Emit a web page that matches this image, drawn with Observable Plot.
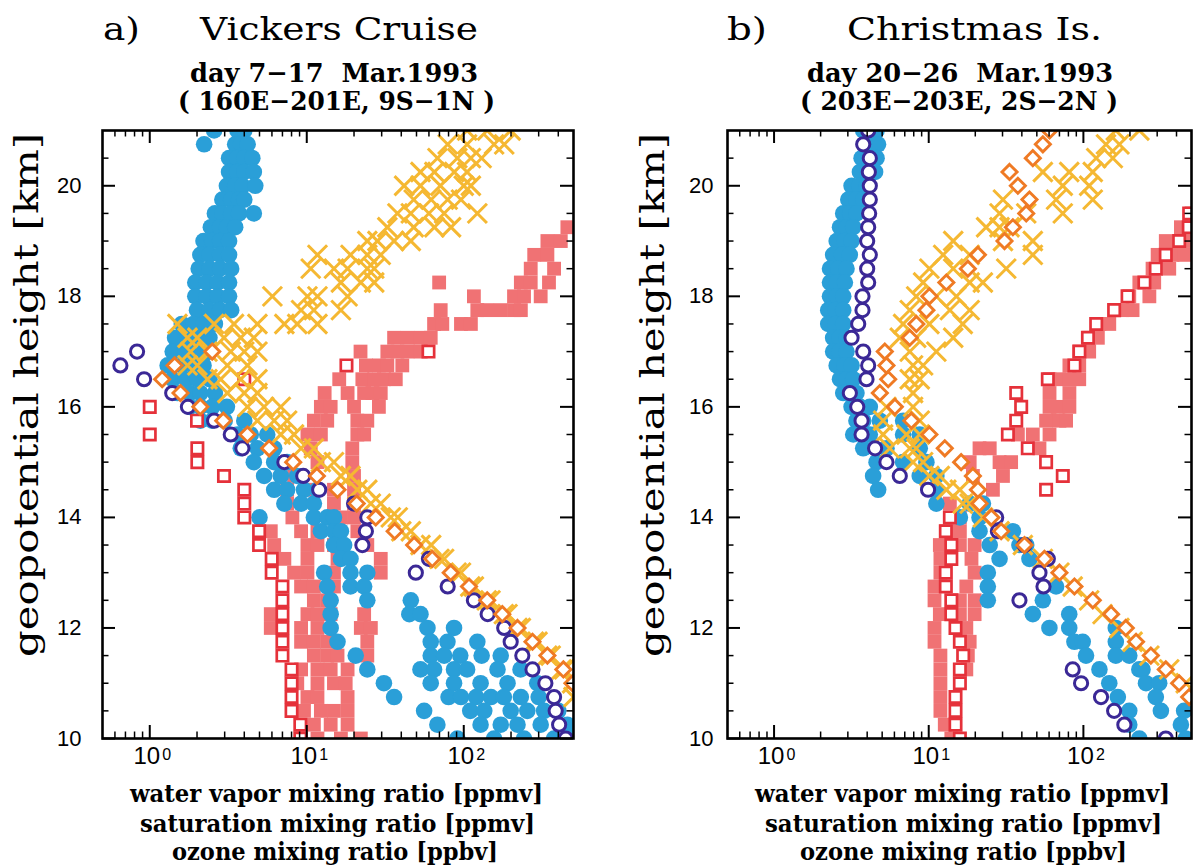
<!DOCTYPE html>
<html><head><meta charset="utf-8">
<script src="https://cdn.jsdelivr.net/npm/d3@7"></script>
<script src="https://cdn.jsdelivr.net/npm/@observablehq/plot@0.6"></script>
<style>
html,body{margin:0;padding:0;background:#fff;}
#wrap{position:relative;width:1199px;height:866px;overflow:hidden;background:#fff;}
#wrap > svg{position:absolute;top:0;}
</style></head><body><div id="wrap"></div>
<script>
// ---------- tick labels & texts ----------
const xTickValues = [1, 10, 100];
const xTickExponents = ["0", "1", "2"];
const xMinorTicks = [0.6,0.7,0.8,0.9,2,3,4,5,6,7,8,9,20,30,40,50,60,70,80,90,200,300,400];
const yTickValues = [10, 12, 14, 16, 18, 20];
const yMinorTicks = [10.5,11,11.5,12.5,13,13.5,14.5,15,15.5,16.5,17,17.5,18.5,19,19.5,20.5];
const titlesA = ["a)", "Vickers Cruise", "day 7\u221217  Mar.1993", "( 160E\u2212201E, 9S\u22121N )"];
const titlesB = ["b)", "Christmas Is.", "day 20\u221226  Mar.1993", "( 203E\u2212203E, 2S\u22122N )"];
const xLabelLines = ["water vapor mixing ratio [ppmv]", "saturation mixing ratio [ppmv]", "ozone mixing ratio [ppbv]"];
const yLabel = "geopotential height [km]";

// ---------- data: rows of [height km, values...] ----------
// Panel a (Vickers Cruise)
const aVapor = [
[21,2.57,3.62,4.0],[20.75,2.22,3.5,3.8,4.2],[20.5,3.2,3.6,4.0,4.5],[20.25,3.2,3.6,4.0,4.6],[20,3.1,3.5,3.9,4.7],
[19.75,2.9,3.3,3.7,4.0],[19.5,2.6,2.9,3.3,3.7,4.6],[19.25,2.45,2.8,3.1,3.5],[19,2.2,2.5,2.8,3.2],[18.75,2.1,2.4,2.8,3.2],
[18.5,2.05,2.4,2.8,3.3],[18.25,1.95,2.3,2.7,3.2],[18,1.95,2.3,2.7,3.2],[17.75,2.0,2.4,2.8,3.3],[17.5,1.6,1.9,2.2,2.6],
[17.25,1.45,1.75,2.05,2.4],[17,1.4,1.7,2.0,2.4],[16.75,1.3,1.6,1.9,2.2],[16.5,1.4,1.7,2.0,2.4],[16.25,1.5,1.8,2.1,2.6],
[16,1.8,2.1,2.5,3.1],[15.75,2.1,2.5,3.0,4.0],[15.5,3.62,4.4,5.6],[15.25,3.8,4.85,6.2],[15,4.6,6.2,7.5],
[14.75,5.35,6.83,8.7],[14.5,6.2,7.5,9.6,11.7],[14.25,7.2,9.2,11.1],[14,5.0,11.1,13.5,14.9],[13.75,12.3,14.9,16.5],
[13.5,14.9,17.3],[13.25,16.5,19],[13,12.9,19,24.3],[12.75,13.5,19,23.2],[12.5,14.2,24.3,46],[12.25,14.2,45,53],
[12,14.2,58.7,86.7],[11.75,15.7,61.6,78.7,122],[11.5,20.5,61.6,75,95,130,172],[11.25,24.3,53,64.7,86.7,105,164,230],
[11,31,61.6,86.7,128,190,294],[10.75,36,80,96,120,149,180,231,300],[10.5,55.9,110,135,199,254,325,400],
[10.25,67.9,128,172,220,309,457],[10,91,156,242,376,479]
];
const aVaporMean = [
[17,0.83],[16.75,0.65],[16.5,0.92],[16.25,1.39],[16,1.75],[15.75,2.57],[15.5,3.28],[15.25,3.89],[15,7.2],
[14.75,9.5],[14.5,12],[14.25,20],[14,24.3],[13.75,23.8],[13.5,22.6],[13.25,60],[13,49.5],[12.75,79],[12.5,116],
[12.25,142],[12,181],[11.75,199],[11.5,236],[11.25,274],[11,331],[10.75,376],[10.5,385],[10.25,405],[10,446]
];
const aSat = [
[21,105,141,199],[20.75,79,105,156,181],[20.5,68,91,111,130],[20.25,53,65,87,105],[20,41.7,53,71,100,111],
[19.75,48,62,79,96],[19.5,37.8,46,60,75,122],[19.25,32.6,48,65,83],[19,24.3,28.2,36,46],[18.75,11.7,19,24.3,29.6],
[18.5,10.6,14.9,18.2,24.3,26.9],[18.25,16.5,22.1,26.9],[18,6.04,10.1,11.7,18.2],[17.75,9.2,11.1,16.5],
[17.5,1.5,2.57,3.44,4.85,7.2,8.7,11.7],[17.25,1.74,2.01,2.97,3.8,4.6],[17,1.82,2.33,3.28,4.0,4.85],
[16.75,1.74,2.01,3.12,4.19],[16.5,2.33,2.83,3.8,4.85],[16.25,3.12,4.0,4.85],[16,4.19,5.35,6.83],[15.75,4.85,6.2,7.5],
[15.5,6.83,8.3],[15.25,9.2,11.1],[15,12.3,14.9],[14.75,16.5,19],[14.5,21,24.3],[14.25,25.6,29.6],[14,34.3,38],
[13.75,40,46],[13.5,53,62],[13.25,70,75],[13,90,96],[12.75,110,116],[12.5,140,148],[12.25,180,190],[12,220,231],
[11.75,280,295],[11.5,340,358],[11.25,420,436],[11,490],[10.75,500]
];
const aSatMean = [
[17,2.5],[16.75,1.44],[16.5,1.2],[16.25,1.57],[16,2.1],[15.75,2.94],[15.5,4.19],[15.25,5.76],[15,8.2],[14.75,11.6],
[14.5,15.7],[14.25,20.8],[14,27.5],[13.75,36.3],[13.5,48.3],[13.25,63],[13,82.6],[12.75,108],[12.5,141],[12.25,176],
[12,220],[11.75,274],[11.5,341],[11.25,431],[11,492]
];
const aOzone = [
[19.25,457],[19,341,415],[18.75,281,341],[18.5,267,376],[18.25,69.7,231,267,349],[18,116,209,242,309],
[17.75,71.3,122,141,172,209,231],[17.5,64.7,73,96,111],[17.25,36,43.8,53.2,61.6],[17,22,32.6,37.8,43.8,53.2],
[16.75,23.8,28.8,32.6,40.6],[16.5,16.1,22.6,26.9,31,36.9],[16.25,13,18.2,23.2,26.2,29.6],[16,12.3,14.2,20,28.8],
[15.75,11.1,13.5,21,24.3],[15.5,10.1,12.3,21,23.2],[15.25,10.6,19.5],[15,7.5,11.7,19.5],[14.75,8.3,20],
[14.5,7.5,10.1,14.9,20],[14.25,7.5,14.9,20],[14,8.1,16.5,20],[13.75,5.9,9.2,11.7,21],[13.5,6.2,10.1,11.7,14.9,24.3],
[13.25,7.2,10.1,15.7,29.6],[13,8.3,10.1,14.9,29.6],[12.75,9.2,11.1,14.9],[12.5,11.1,13.5],[12.25,5.9,10.1,11.7,14.2,23.2],
[12,5.9,9.2,11.7,22.1,25.6],[11.75,9.2,11.1,13.5,24.3],[11.5,11.1,13.5,15.7,24.3],[11.25,9.2,11.7,14.2,18.2],
[11,8.7,11.7,14.9,17.7],[10.75,10.1,11.7,18.2],[10.5,9.6,12.3,14.9,18.2],[10.25,11.1,14.2,18.2],[10,9.2,11.7,16.5,22.1]
];
const aOzoneMean = [
[17,59.6],[16.75,17.9],[16.5,4.0],[16,1.0],[15.75,2.0],[15.5,1.0],[15.25,2.01],[15,2.01],[14.75,2.97],[14.5,4.0],
[14.25,4.0],[14,4.0],[13.75,4.97],[13.5,4.97],[13.25,5.98],[13,5.98],[12.75,7.0],[12.5,7.0],[12.25,7.0],[12,7.0],
[11.75,7.0],[11.5,7.0],[11.25,8.0],[11,8.0],[10.75,8.0],[10.5,8.0],[10.25,9.1],[10,9.1]
];
// Panel b (Christmas Is.)
const bVapor = [
[21,3.77,4.2,4.6],[20.75,3.87,4.3,4.7],[20.5,3.68,4.1,4.6],[20.25,3.59,4.0,4.5],[20,3.17,3.55,3.96],
[19.75,3.02,3.4,3.77],[19.5,2.8,3.1,3.41],[19.25,2.67,2.95,3.25],[19,2.54,2.85,3.17],[18.75,2.41,2.75,3.09],
[18.5,2.3,2.6,2.94],[18.25,2.3,2.55,2.87],[18,2.3,2.55,2.8],[17.75,2.24,2.5,2.8],[17.5,2.24,2.5,2.8],
[17.25,2.41,2.65,2.94],[17,2.41,2.65,2.94],[16.75,2.54,2.85,3.17],[16.5,2.67,2.95,3.25],[16.25,2.8,3.1,3.41],
[16,3.17,3.6,4.16],[15.75,3.41,3.77,4.83,6.83],[15.5,3.25,4.16,6.83,8.75],[15.25,3.77,5.33,8.75],[15,4.6,6.83,9.66],
[14.75,4.37,8.75,11.2],[14.5,4.71,11.2],[14.25,11.2,18.4,22.4],[14,15.9,21.3],[13.75,21.3,35],[13.5,24.8,38.6,42.7],
[13.25,28.7,44.8],[13,24.1],[12.75,24.1,66.6],[12.5,24.1,54.7],[12.25,47.1,81],[12,60.3,81,162],[11.75,87.5,99,162],
[11.5,104,162,198],[11.25,127,230,241],[11,147,254,309],[10.75,167,294],[10.5,198,317,448],[10.25,198,427],[10,230,459]
];
const bVaporMean = [
[21,4.06],[20.75,3.77],[20.5,4.16],[20.25,4.1],[20,4.16],[19.75,4.16],[19.5,4.12],[19.25,4.06],[19,4.0],[18.75,4.16],
[18.5,4.0],[18.25,4.06],[18,3.73],[17.75,3.73],[17.5,3.5],[17.25,3.17],[17,3.77],[16.75,4.06],[16.5,3.96],[16.25,3.09],
[16,3.45],[15.75,3.68],[15.5,3.68],[15.25,4.5],[15,5.33],[14.75,6.5],[14.5,9.9],[14,27.3],[13.75,28],[13.5,41.6],
[13.25,58.9],[13,52],[12.75,55.2],[12.5,38.6],[11.25,85.3],[11,96.6],[10.75,130],[10.5,158],[10.25,184],[10,341]
];
const bSat = [
[21,162,230],[20.75,140,171],[20.5,121,155],[20.25,54.7,81,115],[20,73.6,109],[19.75,30.2,66.6,115],
[19.5,28.7,42.7,73.6],[19.25,23.5,28.7,33.3],[19,14.4,30.2,47.1],[18.75,12.4,18.4,47.1],[18.5,10.1,14.4,31.7],
[18.25,9.2,18.4,22.4],[18,8.3,11.2,15.1],[17.75,7.54,13.7,18.4],[17.5,6.83,10.1,16.6],[17.25,6.5,8.3,14.4],
[17,7.54,11.2],[16.75,7.92,9.2],[16.5,7.54,8.75],[16.25,7.92],[16,5.33,7.92],[15.75,5.07,8.75],[15.5,5.07,7.18,8.75],
[15.25,5.6,7.54,8.3],[15,7.92,9.2],[14.75,10.1,11.8],[14.5,13,15.9],[14.25,16.6,18.4],[14,22.4],[13.75,28.7],
[13.5,40.6],[13.25,54.7],[13,70],[12.75,85.3],[12.5,109],[12.25,133],[12,171],[11.75,208],[11.5,267],[11.25,359],[11,459]
];
const bSatMean = [
[21,60.4],[20.75,54.7],[20.5,47.1],[20.25,33.3],[20,37.7],[19.75,44.8],[19.5,42.7],[19.25,35],[19,30.9],[18.75,20.8],
[18.5,17.9],[18.25,13],[18,10.1],[17.75,9.66],[17.5,8.32],[17.25,7.54],[17,5.2],[16.75,5.33],[16.5,5.47],[16.25,4.83],
[16,6.04],[15.75,7.72],[15.5,10.1],[15.25,12.7],[15,16.2],[14.75,19.3],[14.5,20.8],[14.25,21.3],[14,25.4],[13.75,29.4],
[13.5,41.6],[13.25,56],[13,70],[12.75,87.5],[12.5,115],[12.25,151],[12,188],[11.75,219],[11.5,273],[11.25,341],
[11,416],[10.75,483]
];
const bOzone = [
[19.5,500],[19.25,427,483],[19,341,459],[18.75,302,377,448],[18.5,280,359],[18.25,230,287],[18,198,267],
[17.75,179,208],[17.5,127,147],[17.25,109,124],[17,94,109],[16.75,81.2,94],[16.5,60.4,70,81.2,94],[16.25,60.4,81.2],
[16,60.4,68.3,81.2],[15.75,57.4,70,77.3],[15.5,37.7,47.1,60.4],[15.25,21.3,24.8,52],[15,18.4,28.7,34.1],
[14.75,19.3,30.2],[14.5,26],[14.25,13.7],[14,15.9],[13.75,13,15.9],[13.5,11.8,15.9,19.8],[13.25,11.9,18.9],
[13,11.9,19.8],[12.75,10.9,17.5],[12.5,10.9,15.9,19.8],[12.25,11.8,15.9,19.8],[12,10.9,17.5],[11.75,10.9,18.4],
[11.5,11.9,17.9],[11.25,11.9,17.5],[11,11.9],[10.75,11.9],[10.5,11.9],[10.25,12.7],[10,14]
];
const bOzoneMean = [
[19.5,483],[19.25,480],[19,416],[18.75,341],[18.5,294],[18.25,248],[18,193],[17.75,158],[17.5,121],[17.25,107],
[17,94.2],[16.75,87.5],[16.5,58.9],[16.25,36.8],[16,39.6],[15.75,36.8],[15.5,32.5],[15.25,43.7],[15,57.4],[14.75,73.6],
[14.5,57.4],[14,13.7],[13.75,12.9],[13.5,14],[13.25,14],[13,12.9],[12.75,12.9],[12.5,14],[12.25,14],[12,14.9],
[11.75,15.9],[11.5,16.7],[11.25,15.9],[11,15.9],[10.75,14.9],[10.5,14.9],[10.25,14.9],[10,15.9]
];

// ---------- styling ----------
const BLUE = "#2a9fd8", PURPLE = "#3b2896", SALMON = "#f07274", RED = "#e5313a", YELLOW = "#f5b832", ORANGE = "#ef7a24";
const SANS = "'Liberation Sans', Arial, Helvetica, sans-serif";
const SERIF = "'DejaVu Serif', 'Liberation Serif', serif";
const H = 866, MT = 130, MB = 128;

function rows(r) { return r.flatMap(([h, ...xs]) => xs.map(x => ({h, x}))); }

function panel(p) {
  const FW = p.width - p.ml - p.mr, FH = H - MT - MB;
  const svg = Plot.plot({
    width: p.width, height: H, marginTop: MT, marginBottom: MB, marginLeft: p.ml, marginRight: p.mr,
    x: {type: "log", domain: [0.5, 500], axis: null},
    y: {domain: [10, 21], axis: null},
    style: {background: "transparent", overflow: "visible"},
    marks: [
      Plot.dot(rows(p.ozone), {x: "x", y: "h", symbol: "square", r: 7.8, fill: SALMON, stroke: "none", clip: true}),
      Plot.dot(rows(p.vapor), {x: "x", y: "h", r: 8.3, fill: BLUE, stroke: "none", clip: true}),
      Plot.dot(rows(p.ozoneMean), {x: "x", y: "h", symbol: "square", r: 6.4, fill: "white", stroke: RED, strokeWidth: 2.7, clip: true}),
      Plot.dot(rows(p.sat), {x: "x", y: "h", symbol: "times", r: 8.8, fill: "none", stroke: YELLOW, strokeWidth: 3, clip: true}),
      Plot.dot(rows(p.vaporMean), {x: "x", y: "h", r: 6.6, fill: "white", stroke: PURPLE, strokeWidth: 3, clip: true}),
      Plot.dot(rows(p.satMean), {x: "x", y: "h", symbol: "diamond2", r: 6.8, fill: "white", stroke: ORANGE, strokeWidth: 2.9, clip: true}),
      // inward ticks on all four sides
      Plot.tickX(xTickValues, {x: d => d, insetTop: FH - 13, strokeWidth: 2}),
      Plot.tickX(xTickValues, {x: d => d, insetBottom: FH - 13, strokeWidth: 2}),
      Plot.tickX(xMinorTicks, {x: d => d, insetTop: FH - 6.5, strokeWidth: 1.5}),
      Plot.tickX(xMinorTicks, {x: d => d, insetBottom: FH - 6.5, strokeWidth: 1.5}),
      Plot.tickY(yTickValues, {y: d => d, insetRight: FW - 13, strokeWidth: 2}),
      Plot.tickY(yTickValues, {y: d => d, insetLeft: FW - 13, strokeWidth: 2}),
      Plot.tickY(yMinorTicks, {y: d => d, insetRight: FW - 6.5, strokeWidth: 1.5}),
      Plot.tickY(yMinorTicks, {y: d => d, insetLeft: FW - 6.5, strokeWidth: 1.5}),
      Plot.frame({stroke: "black", strokeWidth: 2.6}),
      // tick labels
      Plot.text(yTickValues, {y: d => d, text: d => String(d), frameAnchor: "left", textAnchor: "end", dx: p.yLabDx, fontSize: 22, fontFamily: SANS, fill: "black"}),
      Plot.text(xTickValues, {x: d => d, text: () => "10", frameAnchor: "bottom", dy: 25.5, dx: -3, fontSize: 24, fontFamily: SANS, fill: "black"}),
      Plot.text(xTickValues, {x: d => d, text: (d, i) => xTickExponents[i], frameAnchor: "bottom", dy: 21, dx: 12.5, textAnchor: "start", fontSize: 16, fontFamily: SANS, fill: "black"})
    ]
  });
  svg.style.left = p.left + "px";
  return svg;
}

const wrap = document.getElementById("wrap");
wrap.appendChild(panel({left: 0, width: 600, ml: 102, mr: 27, yLabDx: -21,
  vapor: aVapor, vaporMean: aVaporMean, sat: aSat, satMean: aSatMean, ozone: aOzone, ozoneMean: aOzoneMean}));
wrap.appendChild(panel({left: 600, width: 599, ml: 127, mr: 8, yLabDx: -14,
  vapor: bVapor, vaporMean: bVaporMean, sat: bSat, satMean: bSatMean, ozone: bOzone, ozoneMean: bOzoneMean}));

// ---------- titles and axis labels (text overlay) ----------
const ov = d3.select(wrap).append("svg").attr("width", 1199).attr("height", H).style("left", "0px")
  .style("pointer-events", "none");
function label(t, x, y, w, size, weight, rotate) {
  const el = ov.append("text")
    .attr("font-family", SERIF).attr("font-size", size).attr("font-weight", weight)
    .attr("textLength", w).attr("lengthAdjust", "spacingAndGlyphs")
    .style("white-space", "pre").attr("fill", "black").text(t);
  if (rotate) el.attr("transform", `translate(${x},${y}) rotate(-90)`);
  else el.attr("x", x).attr("y", y);
}
const layouts = [
  {t: titlesA, tx: [103, 200, 190, 178], tw: [37, 278, 288, 317], lx: [130, 140, 172], lw: [413, 395, 326], yl: 38},
  {t: titlesB, tx: [727, 847, 807, 800], tw: [40, 255, 306, 318], lx: [755, 765, 800], lw: [415, 397, 327], yl: 664}
];
layouts.forEach(L => {
  label(L.t[0], L.tx[0], 40, L.tw[0], 32, "normal");
  label(L.t[1], L.tx[1], 40, L.tw[1], 32, "normal");
  label(L.t[2], L.tx[2], 82, L.tw[2], 26, "bold");
  label(L.t[3], L.tx[3], 110, L.tw[3], 26, "bold");
  label(xLabelLines[0], L.lx[0], 802, L.lw[0], 24, "bold");
  label(xLabelLines[1], L.lx[1], 832, L.lw[1], 24, "bold");
  label(xLabelLines[2], L.lx[2], 860, L.lw[2], 24, "bold");
  label(yLabel, L.yl, 657, 524, 33, "normal", true);
});
</script></body></html>
